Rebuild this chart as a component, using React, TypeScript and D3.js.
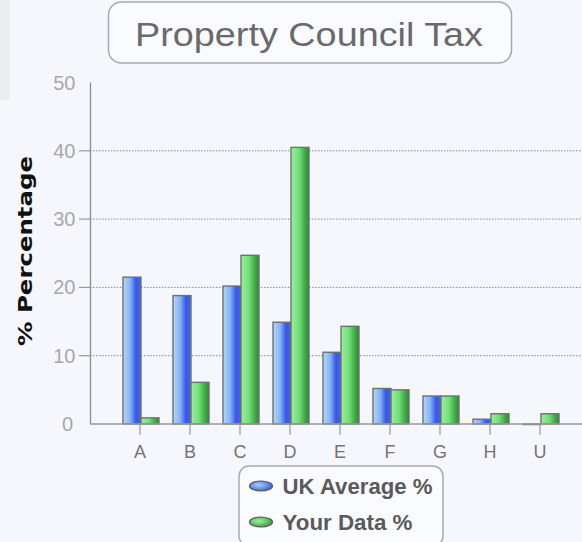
import React from "react";
import * as d3 from "d3";

const categories = ["A", "B", "C", "D", "E", "F", "G", "H", "U"];
const ukAverage = [21.5, 18.8, 20.2, 14.9, 10.5, 5.2, 4.1, 0.7, 0];
const yourData = [0.9, 6.1, 24.7, 40.5, 14.3, 5.0, 4.1, 1.5, 1.5];
const seriesNames = ["UK Average %", "Your Data %"];
const yTicks = [0, 10, 20, 30, 40, 50];

const W = 582;
const H = 542;

export default function App() {
  const x = d3.scaleBand<string>().domain(categories).range([115, 565]).padding(0);
  const inner = d3.scaleBand<string>().domain(seriesNames).range([8, 44]).padding(0);
  const y = d3.scaleLinear().domain([0, 50]).range([424, 82.5]);
  const series = [ukAverage, yourData];
  const fills = ["url(#gBlue)", "url(#gGreen)"];
  const legendY = [486, 522];
  const legendLen = [150, 130];

  return (
    <svg
      width={W}
      height={H}
      style={{ position: "absolute", left: 0, top: 0, display: "block" }}
      fontFamily="'Liberation Sans', Arial, sans-serif"
    >
      <defs>
        <linearGradient id="gBlue" x1="0" x2="1" y1="0" y2="0">
          <stop offset="0%" stopColor="#b4d8f6" />
          <stop offset="40%" stopColor="#86b4f2" />
          <stop offset="72%" stopColor="#3556ea" />
          <stop offset="100%" stopColor="#4a68dc" />
        </linearGradient>
        <linearGradient id="gGreen" x1="0" x2="1" y1="0" y2="0">
          <stop offset="0%" stopColor="#9ceea0" />
          <stop offset="45%" stopColor="#72de78" />
          <stop offset="78%" stopColor="#3faa44" />
          <stop offset="100%" stopColor="#2f8a34" />
        </linearGradient>
        <radialGradient id="lBlue" cx="40%" cy="40%" r="70%">
          <stop offset="0%" stopColor="#a8d0f8" />
          <stop offset="100%" stopColor="#2e54e0" />
        </radialGradient>
        <radialGradient id="lGreen" cx="40%" cy="40%" r="70%">
          <stop offset="0%" stopColor="#a0f0a0" />
          <stop offset="100%" stopColor="#2f9a36" />
        </radialGradient>
      </defs>
      <rect x={0} y={0} width={W} height={H} fill="#f5f7fd" />
      <rect x={0} y={0} width={10} height={100} fill="#ececf1" />

      {/* title */}
      <rect x={108.5} y={2} width={403} height={61} rx={13} fill="#fafbfe" stroke="#aaaaaa" strokeWidth={1.5} />
      <text
        x={309}
        y={45.5}
        textAnchor="middle"
        fontSize={34}
        fill="#6a6a6a"
        textLength={348}
        lengthAdjust="spacingAndGlyphs"
      >
        Property Council Tax
      </text>

      {/* grid */}
      {yTicks.filter((t) => t > 0 && t < 50).map((t) => (
        <g key={t}>
          <line x1={90} x2={W} y1={y(t)} y2={y(t)} stroke="#8a8a8a" strokeWidth={1} strokeDasharray="1.5,1.5" />
          <line x1={79} x2={90} y1={y(t)} y2={y(t)} stroke="#999" strokeWidth={1.2} />
        </g>
      ))}
      {yTicks.map((t) => (
        <text key={t} x={t === 0 ? 73 : 75.5} y={y(t) + 7} textAnchor="end" fontSize={20} fill="#a8a8a8">
          {t}
        </text>
      ))}
      <line x1={90.5} x2={90.5} y1={82.5} y2={424} stroke="#8c8c8c" strokeWidth={1.3} />
      <text
        transform={`translate(32,251) rotate(-90)`}
        textAnchor="middle"
        fontSize={20}
        fontWeight="bold"
        fontFamily="'DejaVu Sans', Verdana, sans-serif"
        fill="#111"
        textLength={190}
        lengthAdjust="spacingAndGlyphs"
      >
        % Percentage
      </text>

      {/* bars */}
      {categories.map((c, i) => (
        <g key={c}>
          {series.map((s, j) => {
            const v = s[i];
            const x0 = (x(c) as number) + (inner(seriesNames[j]) as number);
            const h = y(0) - y(v);
            return (
              <rect
                key={j}
                x={x0}
                y={y(v)}
                width={inner.bandwidth()}
                height={Math.max(h, 0.5)}
                fill={fills[j]}
                stroke="#707070"
                strokeWidth={1.4}
              />
            );
          })}
        </g>
      ))}

      {/* x axis */}
      <line x1={90} x2={W} y1={424} y2={424} stroke="#9a9a9a" strokeWidth={1.3} />
      {categories.map((c) => {
        const cx = (x(c) as number) + x.bandwidth() / 2;
        return (
          <g key={c}>
            <line x1={cx} x2={cx} y1={424} y2={435} stroke="#999" strokeWidth={1.2} />
            <text x={cx} y={458} textAnchor="middle" fontSize={18} fill="#747474">
              {c}
            </text>
          </g>
        );
      })}

      {/* legend */}
      <rect x={239} y={466} width={204} height={80} rx={10} fill="#fafbfe" stroke="#aaaaaa" strokeWidth={1.5} />
      {seriesNames.map((n, j) => {
        const cy = legendY[j];
        return (
          <g key={n}>
            <ellipse cx={261} cy={cy} rx={11.5} ry={5} fill={j === 0 ? "url(#lBlue)" : "url(#lGreen)"} stroke="#555" strokeWidth={1.2} />
            <text
              x={282.5}
              y={cy + 8}
              fontSize={22}
              fontWeight="bold"
              fill="#5a5a5a"
              textLength={legendLen[j]}
              lengthAdjust="spacingAndGlyphs"
            >
              {n}
            </text>
          </g>
        );
      })}
    </svg>
  );
}
